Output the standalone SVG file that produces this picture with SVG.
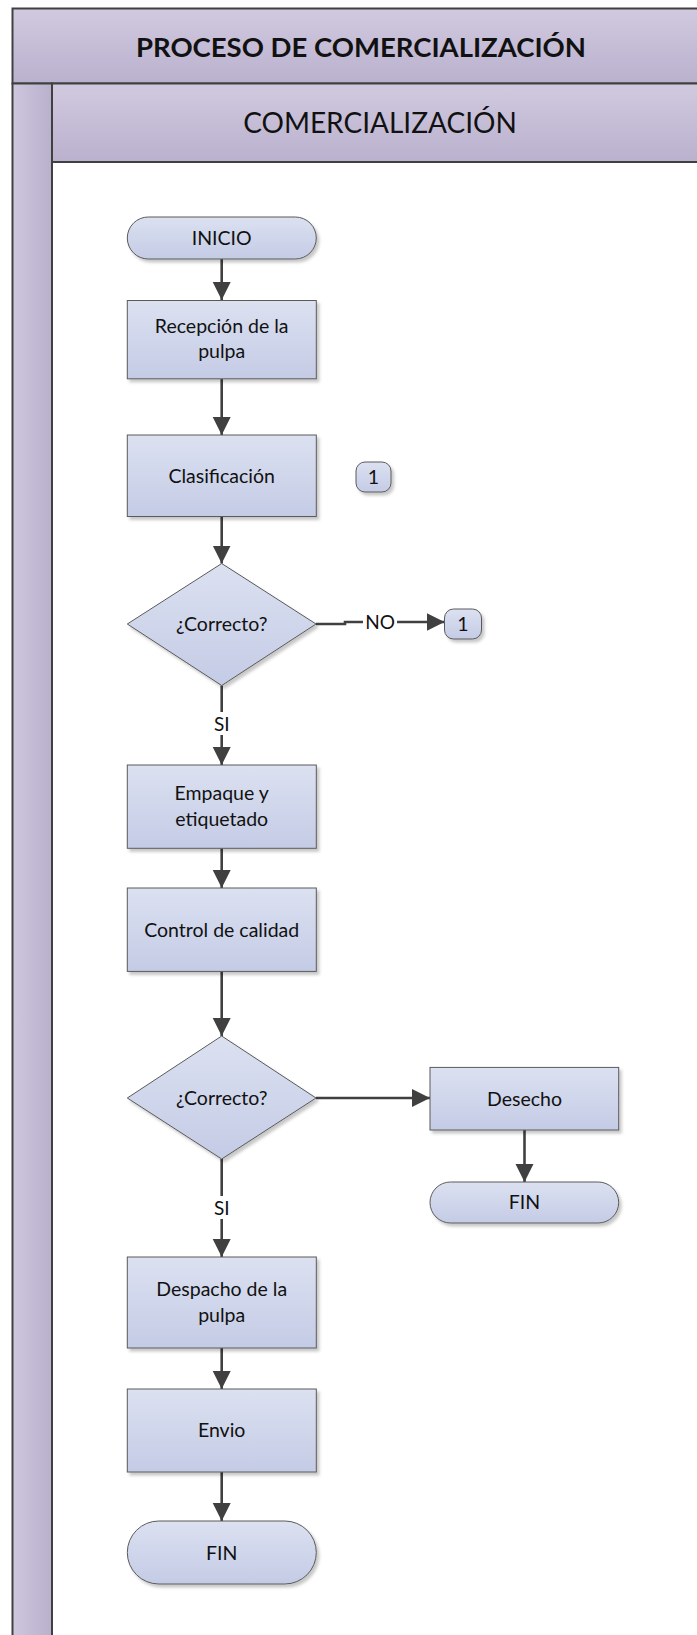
<svg xmlns="http://www.w3.org/2000/svg" width="697" height="1635" viewBox="0 0 697 1635">
<defs>
<linearGradient id="gHead" x1="0" y1="0" x2="0" y2="1"><stop offset="0" stop-color="#d1cadf"/><stop offset="1" stop-color="#bab1ce"/></linearGradient>
<linearGradient id="gLane" x1="0" y1="0" x2="1" y2="0"><stop offset="0" stop-color="#cec7de"/><stop offset="1" stop-color="#b9b0cc"/></linearGradient>
<linearGradient id="gNode" x1="0" y1="0" x2="0" y2="1"><stop offset="0" stop-color="#dce1f1"/><stop offset="1" stop-color="#c4cbe5"/></linearGradient>
<filter id="sh" x="-10%" y="-10%" width="130%" height="140%"><feDropShadow dx="2.5" dy="3" stdDeviation="1.5" flood-color="#000" flood-opacity="0.22"/></filter>
<marker id="arr" markerUnits="userSpaceOnUse" markerWidth="18" markerHeight="20" viewBox="0 0 18 20" refX="18" refY="9" orient="auto"><path d="M0,0 L18,9 L0,18 Z" fill="#404040"/></marker>
<style>
.node{fill:url(#gNode);stroke:#5a5a5a;stroke-width:1;filter:url(#sh)}
.t{font-family:Lato,"Liberation Sans",sans-serif;font-size:19.5px;fill:#111;text-anchor:middle;dominant-baseline:central}
.c{fill:none;stroke:#404040;stroke-width:2.6}
.lbl{font-family:Lato,"Liberation Sans",sans-serif;font-size:19px;fill:#111;text-anchor:middle;dominant-baseline:central}
.hd{font-family:Lato,"Liberation Sans",sans-serif;fill:#111;text-anchor:middle;dominant-baseline:central}
</style>
</defs>
<g id="pool">
<rect x="12.5" y="8.5" width="700" height="75" fill="url(#gHead)" stroke="#404040" stroke-width="2"/>
<text class="hd" x="361" y="46" font-size="27.5" font-weight="bold">PROCESO DE COMERCIALIZACIÓN</text>
<rect x="12.5" y="83.5" width="39.5" height="1560" fill="url(#gLane)" stroke="#404040" stroke-width="2"/>
<rect x="52" y="83.5" width="660" height="78.5" fill="url(#gHead)" stroke="#404040" stroke-width="2"/>
<text class="hd" x="380" y="121.5" font-size="28">COMERCIALIZACIÓN</text>
</g>
<g id="connectors">
<line class="c" x1="221.7" y1="259" x2="221.7" y2="300" marker-end="url(#arr)"/>
<line class="c" x1="221.7" y1="379" x2="221.7" y2="435" marker-end="url(#arr)"/>
<line class="c" x1="221.7" y1="516.5" x2="221.7" y2="563.5" marker-end="url(#arr)"/>
<path class="c" d="M316,624 H345 V622 H444.5" marker-end="url(#arr)"/>
<rect x="363" y="611" width="34" height="22" fill="#fff"/>
<text class="lbl" x="380" y="621.5">NO</text>
<line class="c" x1="221.7" y1="685.5" x2="221.7" y2="765" marker-end="url(#arr)"/>
<rect x="209" y="712" width="25" height="23" fill="#fff"/>
<text class="lbl" x="221.7" y="723.5">SI</text>
<line class="c" x1="221.7" y1="848.3" x2="221.7" y2="888" marker-end="url(#arr)"/>
<line class="c" x1="221.7" y1="971.4" x2="221.7" y2="1036" marker-end="url(#arr)"/>
<line class="c" x1="316" y1="1098" x2="430" y2="1098" marker-end="url(#arr)"/>
<line class="c" x1="524.5" y1="1130" x2="524.5" y2="1182" marker-end="url(#arr)"/>
<line class="c" x1="221.7" y1="1159" x2="221.7" y2="1257" marker-end="url(#arr)"/>
<rect x="209" y="1196" width="25" height="23" fill="#fff"/>
<text class="lbl" x="221.7" y="1207.5">SI</text>
<line class="c" x1="221.7" y1="1348" x2="221.7" y2="1389" marker-end="url(#arr)"/>
<line class="c" x1="221.7" y1="1472" x2="221.7" y2="1521" marker-end="url(#arr)"/>
</g>
<g id="inicio"><rect class="node" x="127.3" y="217" width="189" height="42" rx="21"/><text class="t" x="221.7" y="237">INICIO</text></g>
<g id="recepcion"><rect class="node" x="127.3" y="300.5" width="189" height="78.3"/><text class="t" x="221.7" y="325.5">Recepción de la</text><text class="t" x="221.7" y="350.5">pulpa</text></g>
<g id="clasificacion"><rect class="node" x="127.3" y="435" width="189" height="81.5"/><text class="t" x="221.7" y="475">Clasificación</text></g>
<g id="conector1a"><rect class="node" x="356" y="462" width="35" height="30" rx="9"/><text class="t" x="373.5" y="476.5">1</text></g>
<g id="correcto1"><polygon class="node" points="221.7,563.5 316,624 221.7,685.5 127.3,624"/><text class="t" x="221.7" y="623">¿Correcto?</text></g>
<g id="conector1b"><rect class="node" x="444.5" y="609" width="37" height="30" rx="9"/><text class="t" x="463" y="623.5">1</text></g>
<g id="empaque"><rect class="node" x="127.3" y="765" width="189" height="83.3"/><text class="t" x="221.7" y="792.5">Empaque y</text><text class="t" x="221.7" y="818.5">etiquetado</text></g>
<g id="control"><rect class="node" x="127.3" y="888" width="189" height="83.4"/><text class="t" x="221.7" y="929">Control de calidad</text></g>
<g id="correcto2"><polygon class="node" points="221.7,1036 316,1098 221.7,1159 127.3,1098"/><text class="t" x="221.7" y="1097">¿Correcto?</text></g>
<g id="desecho"><rect class="node" x="430" y="1067.4" width="188.7" height="62.6"/><text class="t" x="524.5" y="1098">Desecho</text></g>
<g id="fin2"><rect class="node" x="430" y="1182" width="188.7" height="41" rx="20.5"/><text class="t" x="524.5" y="1201.5">FIN</text></g>
<g id="despacho"><rect class="node" x="127.3" y="1257" width="189" height="91"/><text class="t" x="221.7" y="1288">Despacho de la</text><text class="t" x="221.7" y="1314">pulpa</text></g>
<g id="envio"><rect class="node" x="127.3" y="1389" width="189" height="83"/><text class="t" x="221.7" y="1429.5">Envio</text></g>
<g id="fin1"><rect class="node" x="127.3" y="1521" width="189" height="63" rx="31.5"/><text class="t" x="221.7" y="1552">FIN</text></g>
</svg>
